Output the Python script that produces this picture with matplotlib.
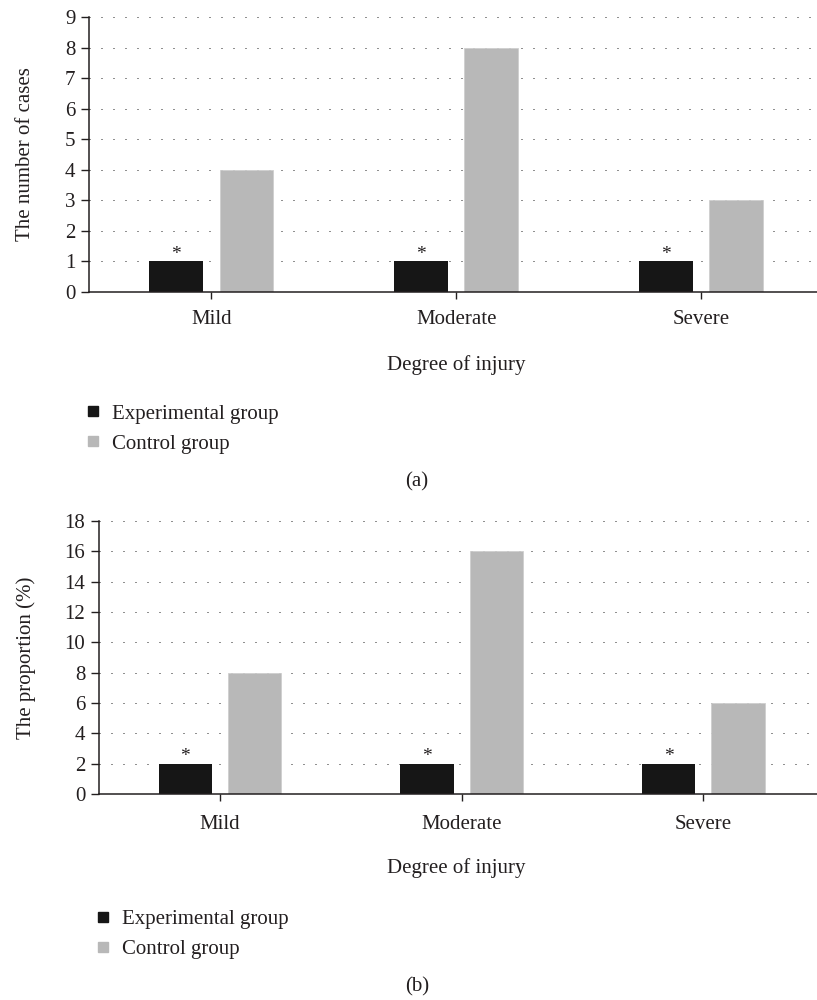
import matplotlib
matplotlib.use("Agg")
import matplotlib.pyplot as plt
from matplotlib.lines import Line2D

plt.rcParams['font.family'] = ['Liberation Serif', 'DejaVu Serif']
plt.rcParams['font.size'] = 15
TXT = '#231f20'

categories = ['Mild', 'Moderate', 'Severe']
series_names = ['Experimental group', 'Control group']
cases_exp = [1, 1, 1]
cases_ctrl = [4, 8, 3]
prop_exp = [2, 2, 2]
prop_ctrl = [8, 16, 6]
yticks_a = list(range(0, 10))
yticks_b = list(range(0, 20, 2))

C_EXP = '#161616'
C_CTRL = '#b8b8b8'

W, H = 817, 1000
fig = plt.figure(figsize=(W / 100, H / 100), dpi=100)


def panel(left, top, bottom, xr, exp, ctrl, yticks, ylabel, ylab_right,
          ticklab_y, xlab_y, leg_y, tag, tag_y):
    ax = fig.add_axes([left / W, 1 - bottom / H, (W - left) / W, (bottom - top) / H])
    x = list(range(len(categories)))
    off, bw = 0.143, 0.22
    ax.bar([i - off for i in x], exp, width=bw, color=C_EXP, zorder=2,
           label=series_names[0])
    ax.bar([i + off for i in x], ctrl, width=bw, color=C_CTRL, zorder=2,
           edgecolor='#cfcfcf', linewidth=0.6, label=series_names[1])
    for i, v in zip(x, exp):
        ax.annotate('*', (i - off, v), xytext=(0, -1), textcoords='offset points',
                    ha='center', va='bottom', color=TXT, fontsize=14)
    ax.set_xlim(-0.5, xr)
    ax.set_ylim(0, yticks[-1])
    ax.set_yticks(yticks)
    ax.set_xticks(x)
    ax.set_xticklabels(categories)
    ax.yaxis.grid(True, linestyle=(0, (1, 11)), linewidth=0.72, color='#222222', zorder=0)
    ax.set_axisbelow(True)
    for s in ['top', 'right']:
        ax.spines[s].set_visible(False)
    for s in ['left', 'bottom']:
        ax.spines[s].set_color(TXT)
        ax.spines[s].set_linewidth(1.1)
    ax.tick_params(axis='y', length=5.8, width=1.0, color=TXT, labelcolor=TXT, pad=4)
    ax.tick_params(axis='x', length=5, width=1.0, color=TXT, labelcolor=TXT,
                   pad=(ticklab_y - bottom - 14) * 0.72)
    wpx = W - left
    ax.set_ylabel(ylabel, color=TXT)
    ax.yaxis.set_label_coords((ylab_right - left) / wpx, 0.5)
    ax.set_xlabel('Degree of injury', color=TXT)
    ax.xaxis.set_label_coords((456 - left) / wpx, -(xlab_y - bottom) / (bottom - top))
    ax.xaxis.label.set_va('center')
    handles = [Line2D([], [], marker='s', linestyle='none', color=C_EXP, markersize=7.5),
               Line2D([], [], marker='s', linestyle='none', color=C_CTRL, markersize=7.5)]
    fig.legend(handles, series_names, loc='center left',
               bbox_to_anchor=((left - 4) / W, 1 - leg_y / H), frameon=False, borderpad=0,
               handlelength=0.75, handletextpad=0.55, labelspacing=0.5,
               labelcolor=TXT, borderaxespad=0)
    fig.text(417 / W, 1 - tag_y / H, tag, ha='center', va='center', color=TXT)
    return ax


panel(89, 17, 292, 2.473, cases_exp, cases_ctrl, yticks_a, 'The number of cases', 35,
      317, 365, 429, '(a)', 482)
panel(99, 521, 794, 2.47, prop_exp, prop_ctrl, yticks_b, 'The proportion (%)', 36,
      822, 868, 934, '(b)', 987)

fig.savefig('out.png', dpi=100)
